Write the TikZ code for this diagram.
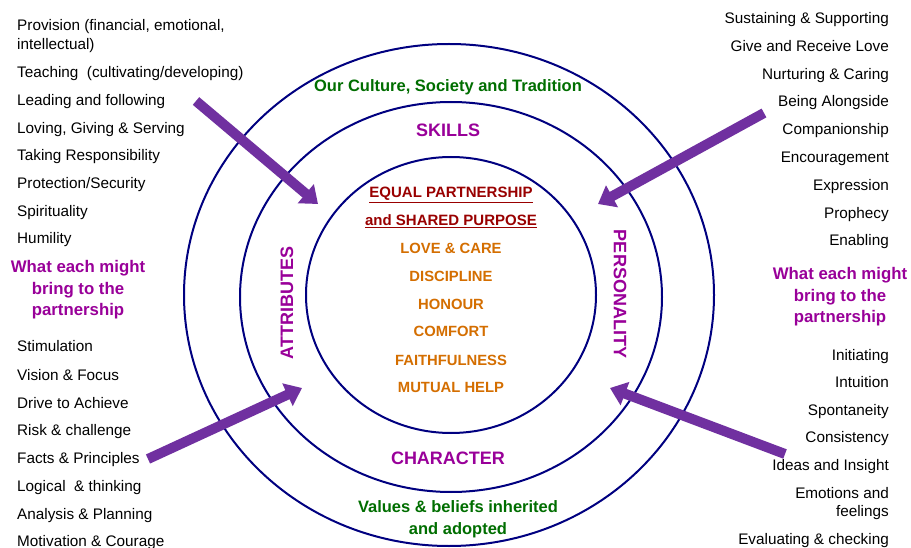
\documentclass[tikz,border=0pt]{standalone}
\usepackage{fontspec}
\setmainfont{Liberation Sans}
\usetikzlibrary{arrows.meta}
\definecolor{navy}{RGB}{0,0,128}
\definecolor{arrowpurple}{RGB}{112,48,160}
\definecolor{labpurple}{RGB}{153,0,153}
\definecolor{dkgreen}{RGB}{0,110,0}
\definecolor{orng}{RGB}{212,110,0}
\definecolor{dkred}{RGB}{153,0,0}
\tikzset{
  ring/.style={draw=navy, line width=2pt},
  bigarrow/.style={draw=arrowpurple, line width=10pt, -{Triangle[length=16pt,width=24pt]}},
  item/.style={font=\fontsize{15.3}{17}\selectfont, inner sep=0pt, text=black},
  litem/.style={item, anchor=base west},
  ritem/.style={item, anchor=base east},
  bring/.style={font=\fontsize{16.8}{21.5}\selectfont\bfseries, text=labpurple, align=center, inner sep=0pt},
  core/.style={font=\fontsize{14.8}{17}\selectfont\bfseries, text=orng, inner sep=0pt, anchor=base},
  head/.style={font=\fontsize{15}{17}\selectfont\bfseries, text=dkred, inner sep=0pt, anchor=base},
  ringlabel/.style={font=\fontsize{18}{21}\selectfont\bfseries, text=labpurple, inner sep=0pt},
  outerlabel/.style={font=\fontsize{16.5}{22}\selectfont\bfseries, text=dkgreen, inner sep=0pt, align=center},
}
\begin{document}
\begin{tikzpicture}[x=1pt,y=-1pt]
\useasboundingbox (0,0) rectangle (911,548);
\clip (0,0) rectangle (911,548);
\fill[white] (0,0) rectangle (911,548);

% rings
\draw[ring] (449,295) ellipse [x radius=265pt, y radius=251pt];
\draw[ring] (451,297) ellipse [x radius=211pt, y radius=195pt];
\draw[ring] (451,295) ellipse [x radius=145pt, y radius=138pt];

% ring labels
\node[outerlabel] (culture) at (448,87) {Our Culture, Society and Tradition};
\node[ringlabel] (skills) at (448,130) {SKILLS};
\node[ringlabel] (character) at (448,458) {CHARACTER};
\node[outerlabel] (values) at (458,519) {Values \& beliefs inherited\\and adopted};
\node[ringlabel, rotate=90] (attr) at (287,303) {ATTRIBUTES};
\node[ringlabel, rotate=-90] (pers) at (620,294) {PERSONALITY};

% core
\node[head] (h1) at (451,198) {\underline{EQUAL PARTNERSHIP}};
\node[head] (h2) at (451,226) {\underline{and SHARED PURPOSE}};
\node[core] (c1) at (451,254) {LOVE \& CARE};
\node[core] (c2) at (451,282) {DISCIPLINE};
\node[core] (c3) at (451,309) {HONOUR};
\node[core] (c4) at (451,337) {COMFORT};
\node[core] (c5) at (451,365) {FAITHFULNESS};
\node[core] (c6) at (451,392) {MUTUAL HELP};

% left list
\node[litem] (l1) at (17,31) {Provision (financial, emotional,};
\node[litem] (l2) at (17,50) {intellectual)};
\node[litem] (l3) at (17,78) {Teaching\ \ (cultivating/developing)};
\node[litem] (l4) at (17,106) {Leading and following};
\node[litem] (l5) at (17,134) {Loving, Giving \& Serving};
\node[litem] (l6) at (17,161) {Taking Responsibility};
\node[litem] (l7) at (17,189) {Protection/Security};
\node[litem] (l8) at (17,217) {Spirituality};
\node[litem] (l9) at (17,244) {Humility};
\node[bring] (lb) at (78,290) {What each might\\bring to the\\partnership};
\node[litem] (l10) at (17,352) {Stimulation};
\node[litem] (l11) at (17,380) {Vision \& Focus};
\node[litem] (l12) at (17,408) {Drive to Achieve};
\node[litem] (l13) at (17,435) {Risk \& challenge};
\node[litem] (l14) at (17,463) {Facts \& Principles};
\node[litem] (l15) at (17,491) {Logical\ \ \& thinking};
\node[litem] (l16) at (17,519) {Analysis \& Planning};
\node[litem] (l17) at (17,546) {Motivation \& Courage};

% right list
\node[ritem] (r1) at (889,24) {Sustaining \& Supporting};
\node[ritem] (r2) at (889,52) {Give and Receive Love};
\node[ritem] (r3) at (889,80) {Nurturing \& Caring};
\node[ritem] (r4) at (889,107) {Being Alongside};
\node[ritem] (r5) at (889,135) {Companionship};
\node[ritem] (r6) at (889,163) {Encouragement};
\node[ritem] (r7) at (889,191) {Expression};
\node[ritem] (r8) at (889,219) {Prophecy};
\node[ritem] (r9) at (889,246) {Enabling};
\node[bring] (rb) at (840,297) {What each might\\bring to the\\partnership};
\node[ritem] (r10) at (889,360) {Initiating};
\node[ritem] (r11) at (889,387) {Intuition};
\node[ritem] (r12) at (889,415) {Spontaneity};
\node[ritem] (r13) at (889,442) {Consistency};
\node[ritem] (r14) at (889,470) {Ideas and Insight};
\node[ritem] (r15) at (889,498) {Emotions and};
\node[ritem] (r16) at (889,516) {feelings};
\node[ritem] (r17) at (889,544) {Evaluating \& checking};

% arrows
\coordinate (a1s) at (196,101);
\coordinate (a1e) at (318,204);
\coordinate (a2s) at (764,113);
\coordinate (a2e) at (598,204);
\coordinate (a3s) at (148,459);
\coordinate (a3e) at (302,388);
\coordinate (a4s) at (785,454);
\coordinate (a4e) at (610,388);
\draw[bigarrow] (a1s) -- (a1e);
\draw[bigarrow] (a2s) -- (a2e);
\draw[bigarrow] (a3s) -- (a3e);
\draw[bigarrow] (a4s) -- (a4e);
\end{tikzpicture}
\end{document}
